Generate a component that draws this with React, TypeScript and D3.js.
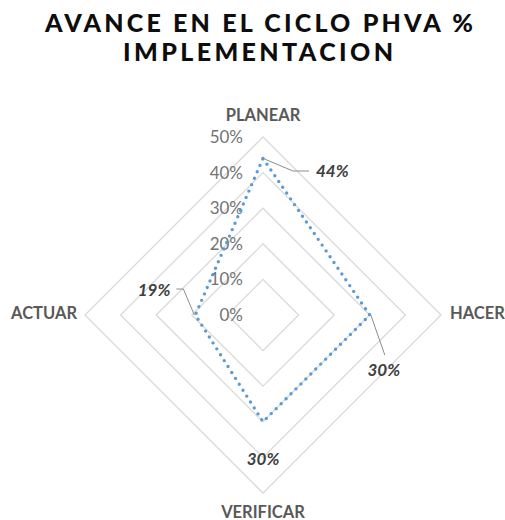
import React from "react";
import * as d3 from "d3";

const categories = ["PLANEAR", "HACER", "VERIFICAR", "ACTUAR"];
const values = [0.44, 0.3, 0.3, 0.19];
const ticks = [0, 0.1, 0.2, 0.3, 0.4, 0.5];
const titleLines = ["AVANCE EN EL CICLO PHVA %", "IMPLEMENTACION"];

const W = 505, H = 520;
const cx = 263, cy = 315, R = 178;

export default function App() {
  const r = d3.scaleLinear().domain([0, 0.5]).range([0, R]);
  const angle = d3.scalePoint<string>().domain(categories).range([0, 2 * Math.PI * (categories.length - 1) / categories.length]);
  const pt = (cat: string, v: number): [number, number] => {
    const a = angle(cat)!;
    return [cx + r(v) * Math.sin(a), cy - r(v) * Math.cos(a)];
  };
  const ring = (v: number) => d3.line().curve(d3.curveLinearClosed)(categories.map((c) => pt(c, v)))!;
  const dataPath = d3.line().curve(d3.curveLinearClosed)(categories.map((c, i) => pt(c, values[i])))!;
  const fmt = d3.format(".0%");
  const font = "Lato, 'Open Sans', sans-serif";

  const p0 = pt(categories[0], values[0]);
  const p1 = pt(categories[1], values[1]);
  const p2 = pt(categories[2], values[2]);
  const p3 = pt(categories[3], values[3]);

  const catPos: { x: number; y: number; anchor: string }[] = [
    { x: cx, y: 115, anchor: "middle" },
    { x: cx + R + 9, y: 313, anchor: "start" },
    { x: cx, y: 512, anchor: "middle" },
    { x: cx - R - 8, y: 313, anchor: "end" },
  ];

  return (
    <svg width={W} height={H} style={{ position: "absolute", left: 0, top: 0, background: "#fff" }}>
      <text x={259} y={32} textAnchor="middle" fontFamily={font} fontWeight={900} fontSize={25} fill="#0d0d0d" textLength={428} lengthAdjust="spacing">{titleLines[0]}</text>
      <text x={258} y={61} textAnchor="middle" fontFamily={font} fontWeight={900} fontSize={25} fill="#0d0d0d" textLength={270} lengthAdjust="spacing">{titleLines[1]}</text>
      {ticks.slice(1).map((t) => (
        <path key={t} d={ring(t)} fill="none" stroke="#d9d9d9" strokeWidth={1.3} />
      ))}
      {ticks.map((t) => (
        <text key={"t" + t} x={cx - 20} y={cy - r(t)} dy="0.35em" textAnchor="end" fontFamily={font} fontSize={17} fill="#737373">{fmt(t)}</text>
      ))}
      <path d={dataPath} fill="none" stroke="#5B9BD5" strokeWidth={3.4} strokeDasharray="0 7" strokeLinecap="round" />
      {categories.map((c, i) => (
        <text key={c} x={catPos[i].x} y={catPos[i].y} dy="0.35em" textAnchor={catPos[i].anchor as any} fontFamily={font} fontWeight={700} fontSize={16.5} fill="#595959">{c}</text>
      ))}
      <polyline points={`${p0[0]},${p0[1]} ${p0[0] + 30},${171} ${p0[0] + 46},${171}`} fill="none" stroke="#8c8c8c" strokeWidth={1} />
      <text x={p0[0] + 53} y={171} dy="0.35em" fontFamily={font} fontWeight={700} fontStyle="italic" fontSize={17} fill="#404040">{fmt(values[0])}</text>
      <polyline points={`${p1[0] + 1},${p1[1]} ${p1[0] + 15},${p1[1] + 40}`} fill="none" stroke="#8c8c8c" strokeWidth={1} />
      <text x={p1[0] + 14} y={370} dy="0.35em" textAnchor="middle" fontFamily={font} fontWeight={700} fontStyle="italic" fontSize={17} fill="#404040">{fmt(values[1])}</text>
      <text x={p2[0]} y={459} dy="0.35em" textAnchor="middle" fontFamily={font} fontWeight={700} fontStyle="italic" fontSize={17} fill="#404040">{fmt(values[2])}</text>
      <polyline points={`${p3[0] - 1},${p3[1]} ${p3[0] - 12},${289} ${p3[0] - 19},${289}`} fill="none" stroke="#8c8c8c" strokeWidth={1} />
      <text x={p3[0] - 25} y={290} dy="0.35em" textAnchor="end" fontFamily={font} fontWeight={700} fontStyle="italic" fontSize={17} fill="#404040">{fmt(values[3])}</text>
    </svg>
  );
}
